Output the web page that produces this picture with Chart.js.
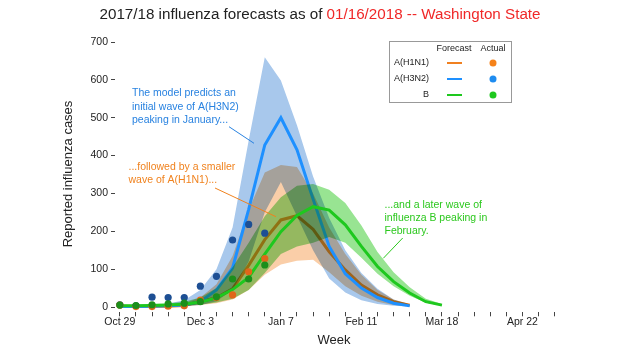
<!DOCTYPE html>
<html>
<head>
<meta charset="utf-8">
<script src="https://cdn.jsdelivr.net/npm/chart.js@4.4.1/dist/chart.umd.min.js"></script>
<style>
  body { margin: 0; background: #fff; }
  #wrap { position: relative; width: 620px; height: 350px; font-family: "Liberation Sans", Arial, sans-serif; }
  #title { position: absolute; left: 10px; top: 5px; width: 620px; text-align: center; font-size: 15.2px; line-height: 18px; color: #222; white-space: nowrap; }
  #title span { color: #f02828; }
</style>
</head>
<body>
<div id="wrap">
  <canvas id="chart" width="620" height="350"></canvas>
  <div id="title">2017/18 influenza forecasts as of <span>01/16/2018 -- Washington State</span></div>
</div>
<script>
// x axis: one tick per week, a label every 5 weeks
const tickLabels = ['Oct 29', 'Dec 3', 'Jan 7', 'Feb 11', 'Mar 18', 'Apr 22'];

// Reported cases (weeks from Oct 29)
const h1n1Actual = [5, 1, 1, 2, 3, 18, 25, 32, 93, 128];
const h3n2Actual = [6, 3, 26, 25, 25, 55, 81, 177, 218, 195];
const bActual = [5, 4, 6, 8, 10, 14, 27, 74, 74, 111];

// Forecast medians
const h1n1Forecast = [2, 1, 1, 2, 4, 15, 24, 48, 110, 178, 230, 241, 205, 146, 98, 58, 32, 14, 5];
const h3n2Forecast = [1, 1, 2, 3, 5, 14, 45, 103, 258, 428, 500, 415, 285, 160, 88, 50, 25, 10, 3];
const bForecast = [3, 3, 4, 5, 7, 13, 24, 46, 78, 140, 199, 242, 265, 256, 217, 160, 107, 67, 37, 14, 5];

// Forecast intervals
const h1n1Lower = [0, 0, 0, 0, 1, 5, 10, 20, 45, 85, 112, 122, 125, 92, 55, 30, 14, 5, 2];
const h1n1Upper = [3, 3, 4, 5, 10, 25, 60, 135, 256, 355, 375, 370, 300, 210, 140, 85, 45, 20, 7];
const h3n2Lower = [0, 0, 0, 1, 2, 5, 15, 45, 120, 250, 330, 240, 150, 75, 38, 18, 8, 3, 1];
const h3n2Upper = [4, 4, 6, 9, 18, 45, 100, 210, 440, 660, 598, 480, 345, 235, 150, 90, 48, 20, 7];
const bLower = [0, 0, 1, 2, 3, 6, 12, 22, 45, 90, 140, 160, 170, 185, 170, 130, 88, 55, 30, 11, 3];
const bUpper = [6, 6, 8, 10, 14, 25, 50, 105, 170, 240, 290, 320, 325, 310, 275, 215, 145, 92, 52, 22, 8];

const strainNames = ['A(H1N1)', 'A(H3N2)', 'B'];
const lineColors = ['#f08020', '#1e90ff', '#1ec81e'];
const dotColors = ['#e0661a', '#1d4f94', '#1b8f1b'];
const bandColors = ['rgb(250,206,168)', 'rgb(168,200,236)', 'rgb(152,228,146)'];
const legendDotColors = ['#f5821a', '#1e8cf0', '#1ec81e'];

function toPoints(values) {
    return values.map((v, i) => ({ x: i, y: v }));
}

function dotSet(values, color) {
    return {
        data: toPoints(values), plain: true, showLine: false,
        pointRadius: 3.6, pointBackgroundColor: color, pointBorderWidth: 0, clip: false
    };
}

function lineSet(values, color) {
    return {
        data: toPoints(values), plain: true, borderColor: color, borderWidth: 3,
        pointRadius: 0, fill: false, tension: 0
    };
}

// upper edge fills down to the lower edge that follows it
function bandSets(lower, upper, color) {
    return [
        { data: toPoints(upper), borderWidth: 0, borderColor: 'transparent', pointRadius: 0, fill: '+1', backgroundColor: color },
        { data: toPoints(lower), borderWidth: 0, borderColor: 'transparent', pointRadius: 0, fill: false }
    ];
}

// bands tint whatever lies under them; lines and dots are drawn plainly
const blendPlugin = {
    id: 'blend',
    beforeDatasetsDraw(chart) {
        chart.ctx.globalCompositeOperation = 'multiply';
    },
    beforeDatasetDraw(chart, args) {
        if (chart.data.datasets[args.index].plain) chart.ctx.globalCompositeOperation = 'source-over';
    },
    afterDatasetDraw(chart, args) {
        if (chart.data.datasets[args.index].plain) chart.ctx.globalCompositeOperation = 'multiply';
    },
    afterDatasetsDraw(chart) {
        chart.ctx.globalCompositeOperation = 'source-over';
    }
};

const notes = [
    { lines: ['The model predicts an', 'initial wave of A(H3N2)', 'peaking in January...'], x: 132, y: 93.5, color: '#2882e0', from: [229, 126.7], to: [254, 143.3] },
    { lines: ['...followed by a smaller', 'wave of A(H1N1)...'], x: 128.5, y: 166.7, color: '#f0821e', from: [215, 188], to: [276, 216.7] },
    { lines: ['...and a later wave of', 'influenza B peaking in', 'February.'], x: 384.5, y: 205, color: '#2cc81e', from: [402.7, 238], to: [383.3, 258.3] }
];

const overlayPlugin = {
    id: 'overlay',
    afterDraw(chart) {
        const ctx = chart.ctx;
        ctx.save();
        // axis titles
        ctx.fillStyle = '#222';
        ctx.font = '13px "Liberation Sans", Arial, sans-serif';
        ctx.textAlign = 'center';
        ctx.textBaseline = 'middle';
        ctx.fillText('Week', 334, 340);
        ctx.save();
        ctx.translate(68, 174);
        ctx.rotate(-Math.PI / 2);
        ctx.fillText('Reported influenza cases', 0, 0);
        ctx.restore();
        // annotations
        ctx.font = '10.5px "Liberation Sans", Arial, sans-serif';
        ctx.textAlign = 'left';
        notes.forEach(n => {
            ctx.fillStyle = n.color;
            n.lines.forEach((t, i) => ctx.fillText(t, n.x, n.y + i * 13.3));
            ctx.strokeStyle = n.color;
            ctx.lineWidth = 1;
            ctx.beginPath();
            ctx.moveTo(n.from[0], n.from[1]);
            ctx.lineTo(n.to[0], n.to[1]);
            ctx.stroke();
        });
        // legend
        ctx.strokeStyle = '#999';
        ctx.lineWidth = 1;
        ctx.strokeRect(389.5, 41.5, 122, 61);
        ctx.font = '9px "Liberation Sans", Arial, sans-serif';
        ctx.fillStyle = '#222';
        ctx.textAlign = 'center';
        ctx.fillText('Forecast', 454, 48.5);
        ctx.fillText('Actual', 493, 48.5);
        strainNames.forEach((name, i) => {
            const y = 63 + i * 16;
            ctx.fillStyle = '#222';
            ctx.textAlign = 'right';
            ctx.fillText(name, 429, y);
            ctx.strokeStyle = lineColors[i];
            ctx.lineWidth = 2;
            ctx.beginPath();
            ctx.moveTo(447, y);
            ctx.lineTo(462, y);
            ctx.stroke();
            ctx.fillStyle = legendDotColors[i];
            ctx.beginPath();
            ctx.arc(493, y, 3.5, 0, Math.PI * 2);
            ctx.fill();
        });
        ctx.restore();
    }
};

// index 0 is painted last: dots on top, then B, H3N2, H1N1 layers
const datasets = [
    dotSet(bActual, dotColors[2]),
    dotSet(h1n1Actual, dotColors[0]),
    dotSet(h3n2Actual, dotColors[1]),
    lineSet(bForecast, lineColors[2]),
    ...bandSets(bLower, bUpper, bandColors[2]),
    lineSet(h3n2Forecast, lineColors[1]),
    ...bandSets(h3n2Lower, h3n2Upper, bandColors[1]),
    lineSet(h1n1Forecast, lineColors[0]),
    ...bandSets(h1n1Lower, h1n1Upper, bandColors[0])
];

const tickFont = { family: '"Liberation Sans", Arial, sans-serif', size: 10.5 };

new Chart(document.getElementById('chart'), {
    type: 'line',
    data: { datasets: datasets },
    options: {
        responsive: false,
        animation: false,
        events: [],
        layout: { padding: { left: 0, right: 60.5, top: 42, bottom: 0 } },
        plugins: { legend: { display: false }, tooltip: { enabled: false }, title: { display: false } },
        scales: {
            x: {
                type: 'linear', min: -0.3, max: 27.3,
                afterFit: s => { s.height = 37.7; },
                border: { display: false },
                grid: { drawOnChartArea: false, drawTicks: true, tickLength: 4, color: '#444' },
                ticks: {
                    stepSize: 1, includeBounds: false, autoSkip: false, maxRotation: 0,
                    padding: 0, color: '#222', font: tickFont,
                    callback: v => (Math.round(v) % 5 === 0 ? tickLabels[Math.round(v) / 5] : '')
                }
            },
            y: {
                min: -14, max: 700,
                afterFit: s => { s.width = 115; },
                border: { display: false },
                grid: { drawOnChartArea: false, drawTicks: true, tickLength: 4, color: '#444' },
                ticks: { stepSize: 100, includeBounds: false, padding: 3, color: '#222', font: tickFont }
            }
        }
    },
    plugins: [blendPlugin, overlayPlugin]
});
</script>
</body>
</html>
